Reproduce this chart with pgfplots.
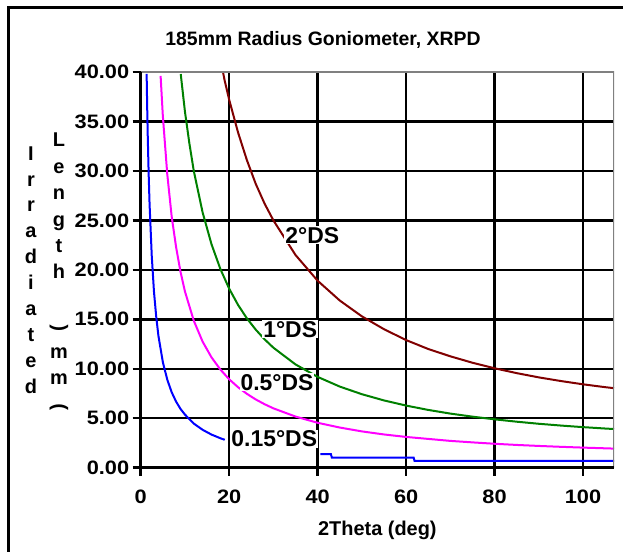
\documentclass[border=0pt]{standalone}
\usepackage{fontspec}
\setmainfont{Liberation Sans}
\newfontfamily\tickfont[FakeStretch=1.12]{Liberation Sans}
\usepackage{graphicx}
\usepackage{pgfplots}
\pgfplotsset{compat=1.18}
\definecolor{exblue}{RGB}{0,0,255}
\definecolor{exmag}{RGB}{255,0,255}
\definecolor{exgreen}{RGB}{0,128,0}
\definecolor{exbrown}{RGB}{128,0,0}
\definecolor{exgray}{RGB}{128,128,128}
\begin{document}
\begin{tikzpicture}
\useasboundingbox (0,0) rectangle (623bp,552bp);
\draw[black, line width=3bp] (8bp,0) -- (8bp,544bp) -- (623bp,544bp);
\node[font=\bfseries\fontsize{19.5}{24}\selectfont] at (323bp,512bp) {185mm Radius Goniometer, XRPD};
\node[align=center, font=\bfseries\fontsize{20}{26}\selectfont, inner sep=0pt] at (31bp,282bp)
 {I\\r\\r\\a\\d\\i\\a\\t\\e\\d};
\node[align=center, font=\bfseries\fontsize{20}{26.5}\selectfont, inner sep=0pt] at (59bp,280bp)
 {L\\e\\n\\g\\t\\h\\~\\\rotatebox{90}{(}\\m\\m\\\rotatebox{90}{)}};
\begin{axis}[
  at={(140.7bp,84.3bp)}, anchor=south west,
  scale only axis, width=473.3bp, height=395.7bp,
  xmin=0, xmax=107, ymin=0, ymax=40,
  xtick={0,20,40,60,80,100},
  ytick={0,5,10,15,20,25,30,35,40},
  xtick pos=bottom, ytick pos=left,
  tick align=outside,
  major tick length=8bp,
  every tick/.style={black, line width=2.5bp},
  grid=major,
  major grid style={black, line width=2.5bp},
  axis line style={draw=none},
  /pgf/number format/assume math mode=true,
  yticklabel style={/pgf/number format/fixed, /pgf/number format/fixed zerofill, /pgf/number format/precision=2},
  xticklabel style={yshift=-11bp},
  scaled y ticks=false,
  tick label style={font=\tickfont\bfseries\fontsize{19.5}{24}\selectfont},
  xlabel={2Theta (deg)},
  xlabel style={font=\bfseries\fontsize{20}{24}\selectfont, yshift=-10bp},
  clip=true,
]
\addplot[exblue, line width=2bp] coordinates {
(1.34,39.8) (1.5,35.6) (1.6,33.4) (1.8,29.7) (2.0,26.7) (2.5,21.4) (3.0,17.8) (3.5,15.3) (4.0,13.35)
(5,10.69) (6,8.91) (7,7.63) (8,6.68) (9,5.94) (10,5.37) (12,4.46) (14,3.83) (16,3.35) (18,2.98) (19,2.82)
};
\addplot[exblue, line width=2bp] coordinates {
(40.6,1.38) (43,1.38) (43.2,1.03) (61.7,1.03) (61.9,0.70) (107,0.70)
};
\addplot[exmag, line width=2bp] coordinates {
(4.5,39.6) (5,35.6) (6,29.7) (7,25.4) (8,22.3) (9,19.8) (10,17.82) (12,14.86) (14,12.74) (16,11.16)
(18,9.93) (20,8.94) (22,8.14) (24,7.47) (26,6.90) (28,6.42) (30,6.00) (35,5.17) (40,4.54) (45,4.06)
(50,3.67) (55,3.36) (60,3.11) (65,2.91) (70,2.71) (75,2.56) (80,2.42) (85,2.30) (90,2.20) (95,2.11)
(100,2.03) (105,1.96) (107,1.93)
};
\addplot[exgreen, line width=2bp] coordinates {
(9.05,39.8) (10,36.0) (11,32.8) (12,30.0) (14,25.8) (16,22.6) (18,20.1) (20,18.1) (22,16.46) (24,15.10)
(26,13.96) (28,12.98) (30,12.13) (35,10.44) (40,9.18) (45,8.20) (50,7.43) (55,6.80) (60,6.28) (65,5.84)
(70,5.47) (75,5.16) (80,4.89) (85,4.65) (90,4.44) (95,4.26) (100,4.10) (105,3.96) (107,3.91)
};
\addplot[exbrown, line width=2bp] coordinates {
(18.6,40.0) (19,39.1) (20,37.2) (22,33.9) (24,31.1) (26,28.7) (28,26.7) (30,25.0) (35,21.5) (40,18.9)
(45,16.9) (50,15.3) (55,14.0) (60,12.9) (65,12.0) (70,11.26) (75,10.61) (80,10.05) (85,9.56) (90,9.13)
(95,8.76) (100,8.43) (105,8.14) (107,8.04)
};
\draw[exgray, line width=3bp] (rel axis cs:0,1) -- (rel axis cs:1,1) -- (rel axis cs:1,0);
\draw[black, line width=2.5bp] (rel axis cs:0,1) -- (rel axis cs:0,0) -- (rel axis cs:1,0);
\node[fill=white, inner sep=1bp, font=\bfseries\fontsize{23}{28}\selectfont] at (axis cs:38.8,23.5) {2°DS};
\node[fill=white, inner sep=1bp, font=\bfseries\fontsize{23}{28}\selectfont] at (axis cs:33.8,14.0) {1°DS};
\node[fill=white, inner sep=1bp, font=\bfseries\fontsize{23}{28}\selectfont] at (axis cs:30.8,8.65) {0.5°DS};
\node[fill=white, inner sep=1bp, font=\bfseries\fontsize{23}{28}\selectfont] at (axis cs:30.2,2.9) {0.15°DS};
\end{axis}
\end{tikzpicture}
\end{document}
